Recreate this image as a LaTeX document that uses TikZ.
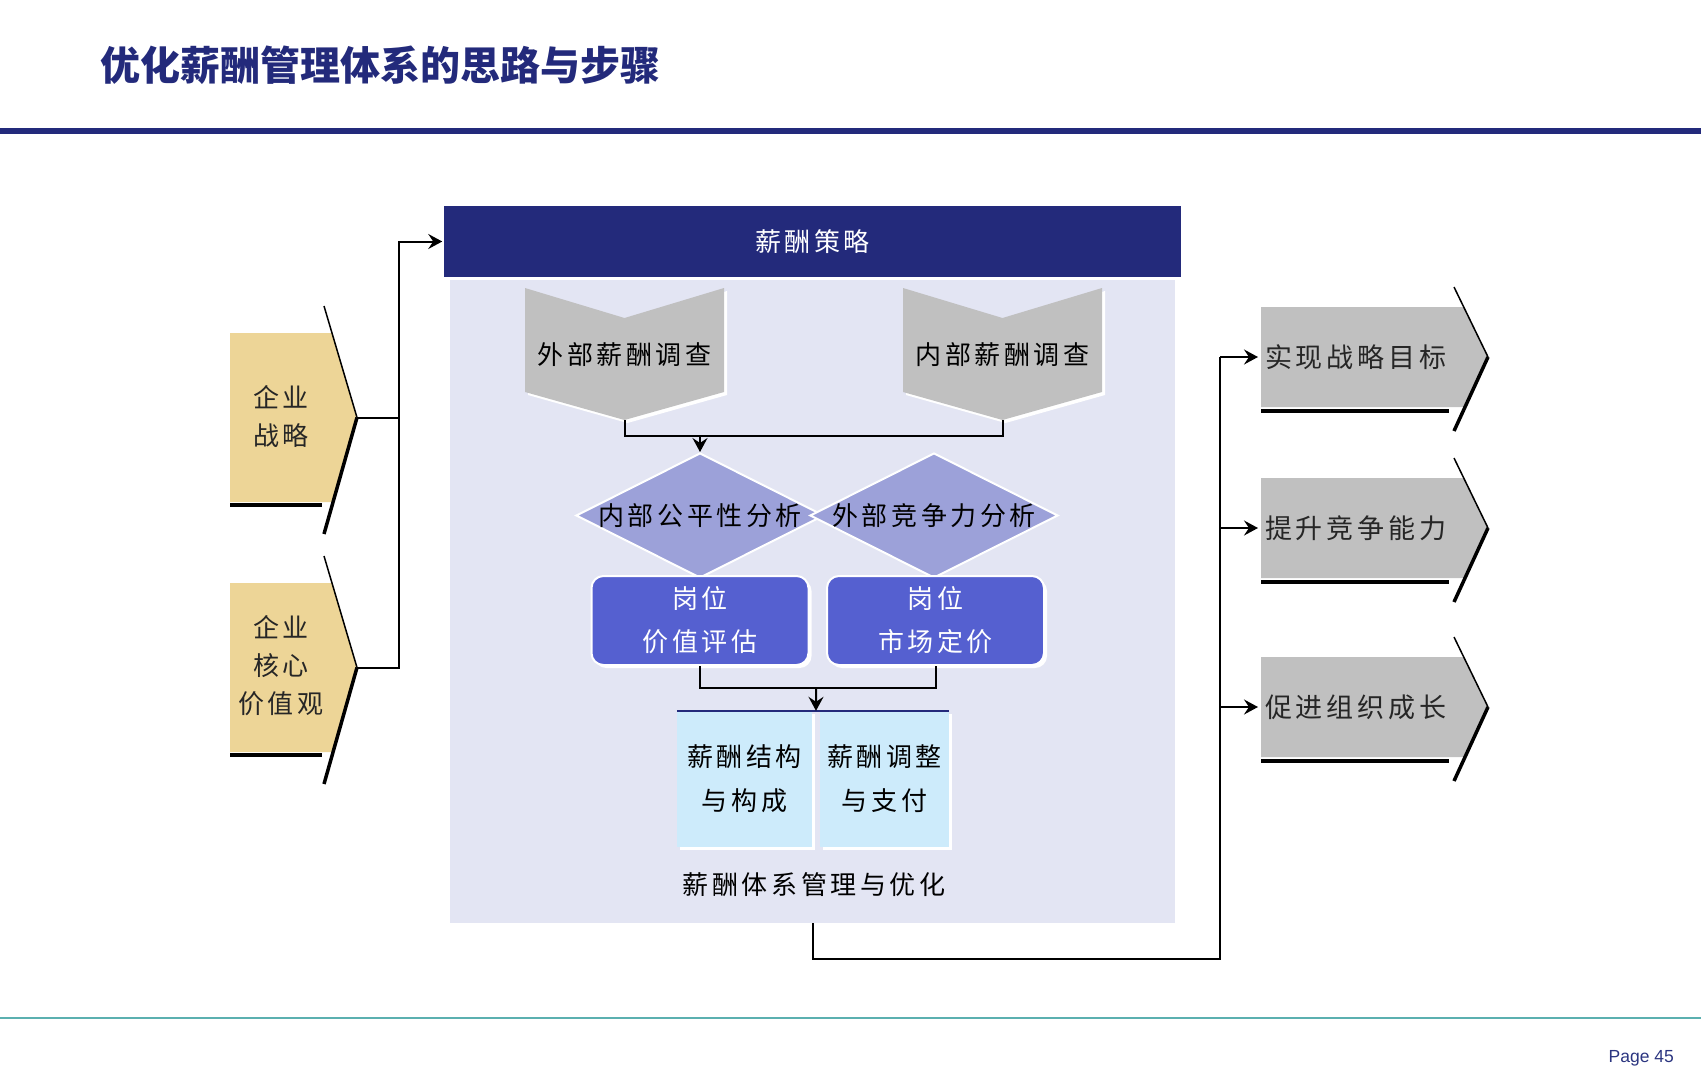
\documentclass[tikz,border=0pt]{standalone}
\usepackage{fontspec}
\setmainfont{Noto Sans CJK SC}
\newfontfamily\cnfont{Noto Sans CJK SC}[LetterSpace=14]
\newfontfamily\titlefont{Noto Sans CJK SC}
\newfontfamily\pagefont{Liberation Sans}
\usepackage{xcolor}
\usepackage{tikz}
\usetikzlibrary{arrows.meta,
  positioning,
  shapes.geometric,
  shadows,
  calc}

\definecolor{navy}{HTML}{232A7B}
\definecolor{panelbg}{HTML}{E3E5F3}
\definecolor{tan}{HTML}{EDD597}
\definecolor{silver}{HTML}{C0C0C0}
\definecolor{lilac}{HTML}{9CA1D9}
\definecolor{royal}{HTML}{5560D0}
\definecolor{pale}{HTML}{CDEBFB}
\definecolor{teal}{HTML}{5BB0B0}
\definecolor{pagecol}{HTML}{2B3580}

\begin{document}
\begin{tikzpicture}[x=1pt, y=-1pt,
  >={Stealth[length=14pt,width=15pt,inset=5pt]},
  link/.style={line width=2pt},
  cn/.style={font=\cnfont\fontsize{26}{38}\selectfont},
  whiteshadow/.style={drop shadow={fill=white, opacity=1,
      shadow xshift=3pt, shadow yshift=-3pt}},
  headbar/.style={
    rectangle, fill=navy, draw=white, line width=1.5pt,
    minimum width=739pt, minimum height=73pt,
    text=white, cn
  },
  judge/.style={
    diamond, fill=lilac, draw=white, line width=2pt,
    minimum width=248pt, minimum height=125pt, inner sep=0pt
  },
  valuebox/.style={
    rectangle, rounded corners=12pt, fill=royal, draw=white,
    line width=2pt, whiteshadow,
    minimum width=217pt, minimum height=89pt, inner sep=2pt,
    text=white, align=center,
    font=\cnfont\fontsize{26}{43}\selectfont
  },
  subbox/.style={
    rectangle, fill=pale, whiteshadow,
    minimum height=136pt, inner sep=2pt, align=center,
    font=\cnfont\fontsize{26}{44}\selectfont
  },
  goaltext/.style={cn, font=\cnfont\fontsize{27}{38}\selectfont,
    anchor=west, inner sep=4pt, text=black!85}
  ]
\useasboundingbox (0,0) rectangle (1701,1080);

% title and rules
\node[anchor=west, inner sep=0pt, text=navy,
  font=\titlefont\bfseries\fontsize{40}{44}\selectfont] (title) at (100,65)
  {优化薪酬管理体系的思路与步骤};
\fill[navy] (0,128) rectangle (1701,134);
\draw[teal, line width=2pt] (0,1018) -- (1701,1018);
\node[anchor=east, inner sep=0pt, text=pagecol,
  font=\pagefont\fontsize{17.5}{20}\selectfont] (page) at (1674,1058) {Page 45};

% panel with the pay strategy on top
\node[rectangle, fill=panelbg, minimum width=725pt, minimum height=643pt]
  (panel) at (812.5,601.5) {};
\node[headbar] (policy) at (812.5,241.5) {薪酬策略};

% the two surveys
\foreach \x in {525,903} {
  \begin{scope}[shift={(\x,288)}]
    \fill[white] (3,3) -- (102.5,33) -- (202,3) -- (202,107) -- (102.5,135) -- (3,107) -- cycle;
    \fill[silver] (0,0) -- (99.5,30) -- (199,0) -- (199,104) -- (99.5,132) -- (0,104) -- cycle;
  \end{scope}
}
\node[cn] (extsurvey) at (624.5,355) {外部薪酬调查};
\node[cn] (intsurvey) at (1002.5,355) {内部薪酬调查};
\coordinate (ext-tip) at (624.5,420);
\coordinate (int-tip) at (1002.5,420);

% the two analyses
\node[judge] (fair) at (700,515.5) {};
\node[judge] (compete) at (934,515.5) {};
\node[cn] (fairtext) at (fair.center) {内部公平性分析};
\node[cn] (competetext) at (compete.center) {外部竞争力分析};

% surveys feed the analyses
\coordinate (join1) at (700,436);
\draw[link] (ext-tip) |- (join1) -| (int-tip);
\draw[link,->] (join1) -- (fair.north);

% job evaluation and pricing
\node[valuebox] (eval) at (700,620.5) {岗位\\价值评估};
\node[valuebox] (price) at (935.5,620.5) {岗位\\市场定价};

% structure and adjustment
\node[subbox, minimum width=135pt] (struct) at (744.5,779) {薪酬结构\\与构成};
\node[subbox, minimum width=129pt] (adjust) at (884.5,779) {薪酬调整\\与支付};
\draw[navy, line width=1.5pt] (struct.north west) -- (adjust.north east);
\node[cn] (mgmt) at (814,885) {薪酬体系管理与优化};

\coordinate (join2) at (816,688);
\draw[link] (eval.south) |- (join2) -| (price.south);
\draw[link,->] (join2) -- ($(struct.north east)!0.5!(adjust.north west)$);

% inputs on the left
\foreach \y in {333,583} {
  \begin{scope}[shift={(230,\y)}]
    \fill[tan] (0,0) -- (102,0) -- (127,84.5) -- (103,169) -- (0,169) -- cycle;
    \draw[line width=1.5pt] (94,-27) -- (127,84.5);
    \draw[line width=3.5pt] (127,84.5) -- (94,201);
    \draw[line width=3.5pt] (0,172) -- (92,172);
  \end{scope}
}
\node[cn, align=center, text=black!85] (strategy) at (281,417) {企业\\战略};
\node[cn, align=center, text=black!85] (values) at (281,665.5) {企业\\核心\\价值观};
\coordinate (s1) at (357,417.5);
\coordinate (s2) at (357,667.5);
\coordinate (bus) at (399,241.5);
\draw[link] (s1) -- (s1 -| bus);
\draw[link,->] (s2) -| (bus) -- (policy.west);

% goals on the right
\foreach \y/\name/\txt in {307/goal1/实现战略目标,478/goal2/提升竞争能力,657/goal3/促进组织成长} {
  \begin{scope}[shift={(1261,\y)}]
    \fill[silver] (0,0) -- (203,0) -- (227,50) -- (204,100) -- (0,100) -- cycle;
    \draw[line width=1.5pt] (193,-20) -- (227,50);
    \draw[line width=3.5pt] (227,50) -- (193,124);
    \draw[line width=3.5pt] (0,104) -- (188,104);
  \end{scope}
  \node[goaltext] (\name) at (1261,\y+50) {\txt};
}

% results lead to the goals
\coordinate (trunk) at (1220,959);
\draw[link] (panel.south) |- (trunk) -- (trunk |- goal1.west);
\foreach \name in {goal1,goal2,goal3}
  \draw[link,->,shorten >=3pt] (trunk |- \name.west) -- (\name.west);

\end{tikzpicture}
\end{document}
